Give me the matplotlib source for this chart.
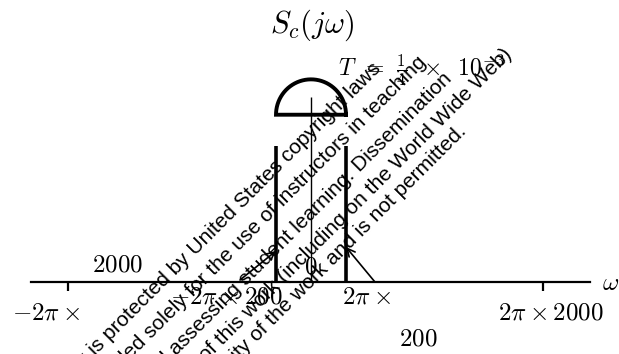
import numpy as np
import matplotlib
matplotlib.use("Agg")
import matplotlib.pyplot as plt

plt.rcParams['mathtext.fontset'] = 'cm'

# spectrum of the sampled signal, frequencies in Hz (axis shows 2*pi*f)
impulse_freqs = [-200, 200]
impulse_heights = [1.0, 1.0]
lobe_halfwidth = 200      # semicircular lobe spans -200..200
lobe_base = 1.23
lobe_radius = 0.26
center_top = 1.36
tick_freqs = [-2000, 2000]

title = r'$S_c(j\omega)$'
period_label = r'$T\;\,=\;\,\frac{1}{4}\;\;\times\;\;10^{-3}$'

watermark_lines = [
    "This work is protected by United States copyright laws",
    "and is provided solely for the use of instructors in teaching",
    "their courses and assessing student learning. Dissemination",
    "or sale of any part of this work (including on the World Wide Web)",
    "will destroy the integrity of the work and is not permitted.",
]
# where each watermark line ends (pixels, baseline end)
watermark_ends = [(382, 70), (427, 63), (453, 80), (513, 55), (467, 132)]

W, H = 619, 354

# schematic (broken) frequency axis: linear near 0, compressed further out
INNER = 35 / 200.0
OUTER_NEG = (243 - 35) / 1800.0
OUTER_POS = (232 - 35) / 1800.0

def fwd(f):
    f = np.asarray(f, dtype=float)
    a = np.abs(f)
    k = np.where(f < 0, OUTER_NEG, OUTER_POS)
    return np.sign(f) * np.where(a <= 200, a * INNER, 35 + (a - 200) * k)

def inv(p):
    p = np.asarray(p, dtype=float)
    a = np.abs(p)
    k = np.where(p < 0, OUTER_NEG, OUTER_POS)
    return np.sign(p) * np.where(a <= 35, a / INNER, 200 + (a - 35) / k)

def px(x, y):
    return x / W, 1 - y / H

fig = plt.figure(figsize=(W / 100, H / 100), dpi=100)
ax = fig.add_axes([0, 0, 1, 1])
ax.set_xscale('function', functions=(fwd, inv))
ax.set_xlim(float(inv(-311)), float(inv(308)))
unit = 136.0
ax.set_ylim(-(H - 282) / unit, 282 / unit)
ax.axis('off')

# frequency axis and ticks
ax.axhline(0, xmin=31 / W, xmax=590 / W, color='k', lw=1.6)
ax.vlines(tick_freqs, -9 / unit, 0, color='k', lw=1.6)

# impulses and centre line
ax.vlines(impulse_freqs, 0, impulse_heights, color='k', lw=2.6)
ax.vlines([0], 0, center_top, color='k', lw=1.0)

# semicircular lobe
t = np.linspace(0, np.pi, 200)
lx = np.append(lobe_halfwidth * np.cos(t), lobe_halfwidth)
ly = np.append(lobe_base + lobe_radius * np.sin(t), lobe_base)
ax.plot(lx, ly, color='k', lw=2.8, solid_joinstyle='miter')

# arrows from the labels to the impulses
arr = dict(arrowstyle='->', lw=1.2, color='k', shrinkA=0, shrinkB=0,
           mutation_scale=14)
ax.annotate('', xy=(impulse_freqs[1], 0.257), xytext=(29, -35),
            textcoords='offset pixels', arrowprops=arr)
ax.annotate('', xy=(impulse_freqs[0], 0.228), xytext=(-36, -29),
            textcoords='offset pixels', arrowprops=arr)

# labels
fs = 18
fig.text(*px(312, 25), title, fontsize=22, ha='center', va='center')
fig.text(*px(338, 70), period_label, fontsize=17, ha='left', va='center')
fig.text(*px(117, 265), r'$2000$', fontsize=fs, ha='center', va='center')
fig.text(*px(46, 313), r'$-2\pi\times$', fontsize=fs, ha='center', va='center')
fig.text(*px(551, 313), r'$2\pi\times 2000$', fontsize=fs, ha='center', va='center')
fig.text(*px(226, 296), r'$-2\pi\times 200$', fontsize=fs, ha='center', va='center')
fig.text(*px(366, 296), r'$2\pi\times$', fontsize=fs, ha='center', va='center')
fig.text(*px(418, 338), r'$200$', fontsize=fs, ha='center', va='center')
fig.text(*px(311, 267), r'$0$', fontsize=fs, ha='center', va='center')
fig.text(*px(602, 283), r'$\omega$', fontsize=fs, ha='left', va='center')

# copyright watermark
for line, (ex, ey) in zip(watermark_lines, watermark_ends):
    fig.text(*px(ex, ey), line, rotation=45, rotation_mode='anchor',
             ha='right', va='baseline', fontsize=15,
             family='Liberation Sans')

fig.savefig('out.png', dpi=100)
